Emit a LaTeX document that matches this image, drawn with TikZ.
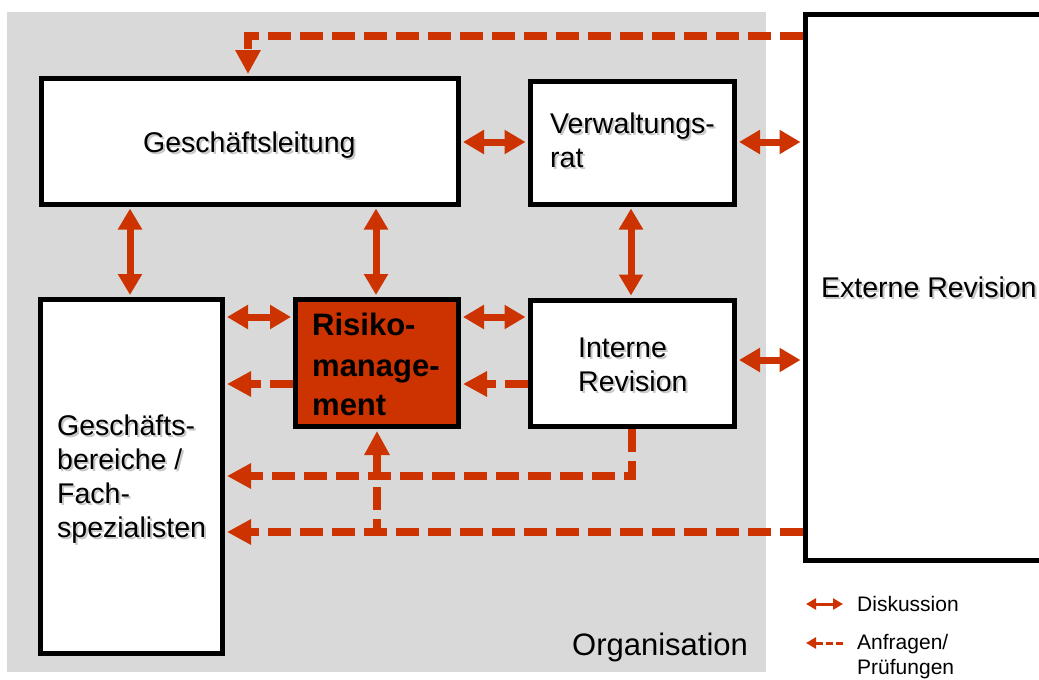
\documentclass[tikz,border=0pt]{standalone}
\usepackage{fontspec}
\setmainfont{Liberation Sans}
\usetikzlibrary{arrows.meta}
\definecolor{rot}{HTML}{CC3300}
\definecolor{grau}{HTML}{D9D9D9}
\newcommand\shtxt[1]{\makebox[0pt][l]{\raisebox{-2pt}{\hspace{2pt}\textcolor{black!22}{#1}}}#1}
\begin{document}
\begin{tikzpicture}[x=1pt,y=-1pt,
 box/.style={draw=black,line width=5pt,fill=white,inner sep=0pt,rectangle},
 lbl/.style={anchor=base west,inner sep=0pt,font=\fontsize{28.5}{34}\selectfont},
 rlbl/.style={anchor=base west,inner sep=0pt,font=\fontsize{31}{40}\selectfont\bfseries},
 leg/.style={anchor=base west,inner sep=0pt,font=\fontsize{21}{25}\selectfont},
 dbl/.style={draw=rot,line width=7pt,{Triangle[length=21pt,width=23pt]}-{Triangle[length=21pt,width=23pt]},shorten <=2pt,shorten >=2pt},
 req/.style={draw=rot,line width=8pt,dash pattern=on 23pt off 9pt,-{Triangle[length=24pt,width=24pt]},shorten >=2pt},
 legdbl/.style={draw=rot,line width=3pt,{Triangle[length=10pt,width=11pt]}-{Triangle[length=10pt,width=11pt]}},
 legreq/.style={draw=rot,line width=3pt,dash pattern=on 7pt off 3pt,-{Triangle[length=10pt,width=11pt]}}]
\useasboundingbox (0,0) rectangle (1039,680);
\fill[grau] (7,12) rectangle (766,672);
% boxes
\node[box,minimum width=417pt,minimum height=125.5pt] (gl) at (250,141.25) {};
\node[box,minimum width=204.5pt,minimum height=122.5pt] (vr) at (632.25,142.75) {};
\node[box,minimum width=255pt,minimum height=545.5pt] (er) at (932.5,287.25) {};
\node[box,minimum width=182pt,minimum height=354pt] (gb) at (131.5,476.5) {};
\node[box,fill=rot,minimum width=163pt,minimum height=127pt] (rm) at (377,363) {};
\node[box,minimum width=204.5pt,minimum height=126.5pt] (ir) at (632.25,363.25) {};
% texts
\node[lbl] (tgl) at (143,152) {\shtxt{Geschäftsleitung}};
\node[lbl] (tvr1) at (550,133) {\shtxt{Verwaltungs-}};
\node[lbl] (tvr2) at (550,167) {\shtxt{rat}};
\node[lbl] (ter) at (821,297) {\shtxt{Externe Revision}};
\node[lbl] (tgb1) at (57,435) {\shtxt{Geschäfts-}};
\node[lbl] (tgb2) at (57,469) {\shtxt{bereiche /}};
\node[lbl] (tgb3) at (57,503) {\shtxt{Fach-}};
\node[lbl] (tgb4) at (57,537) {\shtxt{spezialisten}};
\node[rlbl] (trm1) at (312,335) {Risiko-};
\node[rlbl] (trm2) at (312,376) {manage-};
\node[rlbl] (trm3) at (312,415) {ment};
\node[lbl] (tir1) at (578,357) {\shtxt{Interne}};
\node[lbl] (tir2) at (578,391) {\shtxt{Revision}};
\node[anchor=base west,inner sep=0pt,font=\fontsize{31}{36}\selectfont] (torg) at (572,655) {Organisation};
% discussion arrows
\draw[dbl] (gl.east |- 0,142) -- (vr.west |- 0,142);
\draw[dbl] (vr.east |- 0,142) -- (er.west |- 0,142);
\draw[dbl] (gl.south -| 130,0) -- (gb.north -| 130,0);
\draw[dbl] (gl.south -| 376,0) -- (rm.north -| 376,0);
\draw[dbl] (vr.south -| 631,0) -- (ir.north -| 631,0);
\draw[dbl] (gb.east |- 0,317) -- (rm.west |- 0,317);
\draw[dbl] (rm.east |- 0,317) -- (ir.west |- 0,317);
\draw[dbl] (ir.east |- 0,360) -- (er.west |- 0,360);
% request arrows
\draw[req] (rm.west |- 0,384) -- (gb.east |- 0,384);
\draw[req] (ir.west |- 0,384) -- (rm.east |- 0,384);
\draw[req] (ir.south -| 632,0) |- (gb.east |- 0,476);
\draw[req] (er.west |- 0,532) -- (gb.east |- 0,532);
\draw[req] (er.west |- 0,532) -| (rm.south -| 377,0);
\draw[req] (er.west |- 0,36) -| (gl.north -| 248,0);
% legend
\coordinate (l1a) at (806,604);
\coordinate (l1b) at (843,604);
\coordinate (l2a) at (843,643);
\coordinate (l2b) at (806,643);
\draw[legdbl] (l1a) -- (l1b);
\draw[legreq] (l2a) -- (l2b);
\node[leg] (tl1) at (857,611) {Diskussion};
\node[leg] (tl2) at (857,649) {Anfragen/};
\node[leg] (tl3) at (857,674) {Prüfungen};
\end{tikzpicture}
\end{document}
